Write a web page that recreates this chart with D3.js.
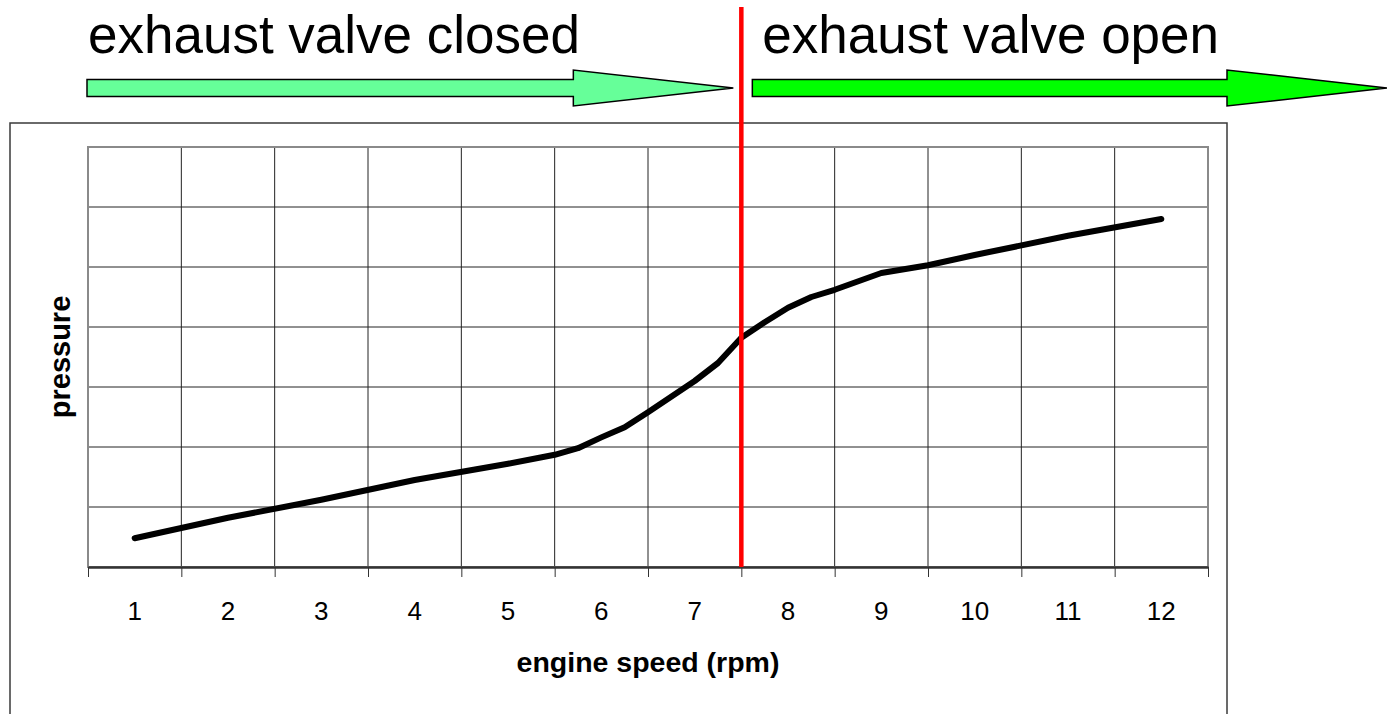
<!DOCTYPE html>
<html lang="en">
<head>
<meta charset="UTF-8">
<title>Exhaust valve pressure</title>
<script src="https://cdnjs.cloudflare.com/ajax/libs/d3/7.8.5/d3.min.js"></script>
<style>
    body { margin: 0; background: #fff; }
    svg { display: block; font-family: Arial, "Liberation Sans", sans-serif; }
</style>
</head>
<body>
<svg width="1387" height="714"></svg>
<script>
// categories on the x axis
const speedLabels = ["1", "2", "3", "4", "5", "6", "7", "8", "9", "10", "11", "12"];
// curve points (x in category units, y in grid units)
const speedX   = [1, 2, 3, 4, 5, 5.5, 5.75, 6, 6.25, 6.5, 7, 7.25, 7.5, 7.75, 8, 8.25, 8.5, 9, 9.5, 10, 11, 12];
const pressure = [0.48, 0.82, 1.12, 1.45, 1.72, 1.87, 1.98, 2.16, 2.33, 2.58, 3.1, 3.4, 3.82, 4.08, 4.32, 4.5, 4.62, 4.9, 5.03, 5.2, 5.52, 5.8];
const gridY = [0, 1, 2, 3, 4, 5, 6, 7];
const valveOpenAt = 7.5;
const phaseLabels = ["exhaust valve closed", "exhaust valve open"];

const svg = d3.select("svg");
const W = +svg.attr("width"), H = +svg.attr("height");

const x = d3.scaleLinear().domain([0.5, 12.5]).range([88, 1208]);
const y = d3.scaleLinear().domain([0, 7]).range([567, 147]);

// outer chart box
svg.append("rect")
    .attr("x", 10).attr("y", 123)
    .attr("width", 1217).attr("height", 620)
    .attr("fill", "none").attr("stroke", "#3a3a3a").attr("stroke-width", 1.5);

// grid
const boundaries = d3.range(0.5, 13, 1);
svg.append("g").selectAll("line").data(boundaries.slice(1, -1)).join("line")
    .attr("x1", d => x(d)).attr("x2", d => x(d))
    .attr("y1", y(7)).attr("y2", y(0))
    .attr("stroke", "#222").attr("stroke-width", 1);
svg.append("g").selectAll("line").data(gridY.slice(1, -1)).join("line")
    .attr("x1", x(0.5)).attr("x2", x(12.5))
    .attr("y1", d => y(d)).attr("y2", d => y(d))
    .attr("stroke", "#222").attr("stroke-width", 1);

// plot frame
svg.append("rect")
    .attr("x", x(0.5)).attr("y", y(7))
    .attr("width", x(12.5) - x(0.5)).attr("height", y(0) - y(7))
    .attr("fill", "none").attr("stroke", "#8a8a8a").attr("stroke-width", 2);

// x axis with ticks at category boundaries
const xAxis = svg.append("g")
    .attr("transform", `translate(0,${y(0)})`)
    .call(d3.axisBottom(x).tickValues(boundaries).tickFormat("").tickSizeInner(10).tickSizeOuter(0));
xAxis.select(".domain").attr("stroke", "#333").attr("stroke-width", 2.5);
xAxis.selectAll(".tick line").attr("stroke", "#333");

svg.append("g").selectAll("text").data(speedLabels).join("text")
    .attr("x", (d, i) => x(i + 1))
    .attr("y", 620)
    .attr("text-anchor", "middle")
    .attr("font-size", 26)
    .text(d => d);

svg.append("text")
    .attr("x", (x(0.5) + x(12.5)) / 2).attr("y", 672)
    .attr("text-anchor", "middle")
    .attr("font-size", 28.5).attr("font-weight", "bold")
    .text("engine speed (rpm)");

svg.append("text")
    .attr("transform", `translate(70,${(y(0) + y(7)) / 2}) rotate(-90)`)
    .attr("text-anchor", "middle")
    .attr("font-size", 29).attr("font-weight", "bold")
    .text("pressure");

// pressure curve
const line = d3.line().x(d => x(d[0])).y(d => y(d[1]));
svg.append("path")
    .datum(speedX.map((s, i) => [s, pressure[i]]))
    .attr("d", line)
    .attr("fill", "none").attr("stroke", "#000")
    .attr("stroke-width", 6).attr("stroke-linecap", "round").attr("stroke-linejoin", "round");

// valve opening marker, from top of page down to the axis
svg.append("line")
    .attr("x1", x(valveOpenAt)).attr("x2", x(valveOpenAt))
    .attr("y1", 7).attr("y2", y(0))
    .attr("stroke", "#ff0000").attr("stroke-width", 4.5);

// phase arrows
function arrow(x0, x1, fill) {
    const headLen = 160, cy = 88;
    const p = d3.path();
    p.moveTo(x0, cy - 8.5);
    p.lineTo(x1 - headLen, cy - 8.5);
    p.lineTo(x1 - headLen, cy - 18);
    p.lineTo(x1, cy);
    p.lineTo(x1 - headLen, cy + 18);
    p.lineTo(x1 - headLen, cy + 8.5);
    p.lineTo(x0, cy + 8.5);
    p.closePath();
    svg.append("path").attr("d", p.toString())
        .attr("fill", fill).attr("stroke", "#000").attr("stroke-width", 1.5);
}
arrow(x(0.5) - 1, x(valveOpenAt) - 8, "#66ff99");
arrow(x(valveOpenAt) + 11, W, "#00ff00");

svg.append("text")
    .attr("x", x(0.5)).attr("y", 53)
    .attr("font-size", 53)
    .text(phaseLabels[0]);
svg.append("text")
    .attr("x", x(valveOpenAt) + 21).attr("y", 53)
    .attr("font-size", 53)
    .text(phaseLabels[1]);
</script>
</body>
</html>
